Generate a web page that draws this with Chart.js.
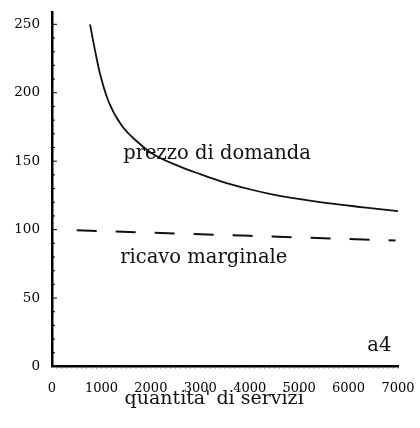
<!DOCTYPE html>
<html>
<head>
<meta charset="utf-8">
<script src="https://cdn.jsdelivr.net/npm/chart.js@4"></script>
<style>
  html, body { margin: 0; padding: 0; background: #fff; }
  #wrap { width: 420px; height: 428px; }
</style>
</head>
<body>
<div id="wrap"><canvas id="myChart"></canvas></div>
<script>
// --------------------
// Data
// --------------------
const demandQty   = [770, 870, 970, 1140, 1410, 1750, 2050, 2590, 3000, 3400, 4000, 4450, 5350, 6300, 7000];
const demandPrice = [250, 231, 214, 194,  176,  163.5, 155, 146,  140.5, 135.5, 129.5, 125.8, 120.5, 116.3, 113.5];

const marginalQty     = [500, 4000, 6950];
const marginalRevenue = [99.5, 95.5, 92];

const xTickValues = [0, 1000, 2000, 3000, 4000, 5000, 6000, 7000];
const yTickValues = [0, 50, 100, 150, 200, 250];

const xTitle = "quantita' di servizi";

// text labels placed in data units
const notes = [
  { text: "prezzo di domanda", x: 1440, y: 155 },
  { text: "ricavo marginale", x: 1380, y: 79 },
  { text: "a4", x: 6380, y: 15 }
];

const serif = "'DejaVu Serif', 'Liberation Serif', serif";

// --------------------
// Plugin: inner ticks, labels, axis title
// --------------------
const extras = {
  id: "extras",
  afterDraw(chart) {
    const ctx = chart.ctx;
    const xs = chart.scales.x;
    const ys = chart.scales.y;
    const area = chart.chartArea;

    ctx.save();
    ctx.strokeStyle = "#000";

    // y minor ticks, pointing into the plot
    for (let v = 0; v <= 250; v += 10) {
      const py = ys.getPixelForValue(v);
      const len = v % 50 === 0 ? 5 : 3;
      ctx.lineWidth = 1;
      ctx.beginPath();
      ctx.moveTo(area.left, py);
      ctx.lineTo(area.left + len, py);
      ctx.stroke();
    }

    // x minor ticks under the axis
    ctx.strokeStyle = "#555";
    for (let v = 100; v <= 7000; v += 100) {
      const px = xs.getPixelForValue(v);
      ctx.lineWidth = 1;
      ctx.beginPath();
      ctx.moveTo(px, area.bottom);
      ctx.lineTo(px, area.bottom + 2);
      ctx.stroke();
    }

    // notes
    ctx.fillStyle = "#111";
    ctx.font = "19.5px " + serif;
    ctx.textBaseline = "middle";
    ctx.textAlign = "left";
    notes.forEach(n => {
      ctx.fillText(n.text, xs.getPixelForValue(n.x), ys.getPixelForValue(n.y));
    });

    // axis title
    ctx.font = "19px " + serif;
    ctx.textAlign = "center";
    ctx.fillText(xTitle, xs.getPixelForValue(3280), area.bottom + 33);
    ctx.restore();
  }
};

// --------------------
// Build chart
// --------------------
const ctx = document.getElementById("myChart").getContext("2d");

new Chart(ctx, {
  type: "line",
  data: {
    datasets: [
      {
        label: "prezzo di domanda",
        data: demandQty.map((q, i) => ({ x: q, y: demandPrice[i] })),
        borderColor: "#111",
        borderWidth: 1.8,
        pointRadius: 0,
        cubicInterpolationMode: "monotone",
        fill: false
      },
      {
        label: "ricavo marginale",
        data: marginalQty.map((q, i) => ({ x: q, y: marginalRevenue[i] })),
        borderColor: "#111",
        borderWidth: 2,
        borderDash: [20, 19],
        pointRadius: 0,
        fill: false
      }
    ]
  },
  options: {
    responsive: true,
    maintainAspectRatio: false,
    animation: false,
    layout: { padding: { top: 12, right: 22, left: 0, bottom: 0 } },
    scales: {
      x: {
        type: "linear",
        min: 0,
        max: 7000,
        afterBuildTicks: s => { s.ticks = xTickValues.map(v => ({ value: v })); },
        afterFit: s => { s.height = 61.5; s.paddingLeft = 0; s.paddingRight = 0; },
        grid: { display: false, drawTicks: false },
        border: { display: true, color: "#000", width: 2.5 },
        ticks: {
          padding: 14,
          maxRotation: 0,
          autoSkip: false,
          color: "#000",
          font: { family: serif, size: 13 },
          callback: v => String(v)
        }
      },
      y: {
        min: 0,
        max: 259,
        afterBuildTicks: s => { s.ticks = yTickValues.map(v => ({ value: v })); },
        afterFit: s => { s.width = 52; s.paddingTop = 0; s.paddingBottom = 0; },
        grid: { display: false, drawTicks: false },
        border: { display: true, color: "#000", width: 2.5 },
        ticks: {
          padding: 12,
          color: "#000",
          font: { family: serif, size: 13.5 },
          callback: v => String(v)
        }
      }
    },
    plugins: {
      legend: { display: false },
      tooltip: { enabled: false }
    }
  },
  plugins: [extras]
});
</script>
</body>
</html>
